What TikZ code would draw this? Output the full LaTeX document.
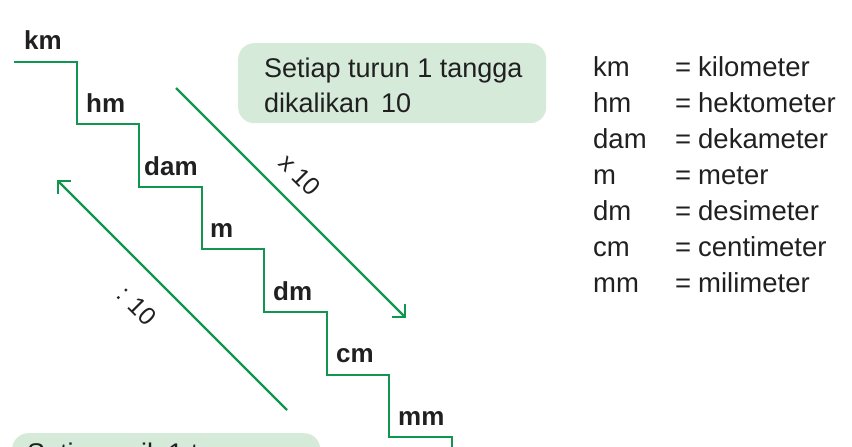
\documentclass[tikz,border=0pt]{standalone}
\usepackage{fontspec}
\setmainfont{Liberation Sans}
\usetikzlibrary{arrows.meta}
\definecolor{stairgreen}{RGB}{16,150,78}
\definecolor{boxgreen}{RGB}{213,234,217}
\definecolor{txt}{RGB}{32,32,32}
\begin{document}
\begin{tikzpicture}[x=1pt,y=-1pt,
  stair/.style={draw=stairgreen,line width=2.7pt},
  unitlbl/.style={anchor=base west,inner sep=0pt,font=\fontsize{26}{30}\selectfont\bfseries,text=txt},
  legend/.style={anchor=base west,inner sep=0pt,font=\fontsize{27.5}{30}\selectfont,text=txt},
  notebox/.style={fill=boxgreen,rounded corners=16pt,inner sep=0pt},
  notetext/.style={anchor=base west,inner sep=0pt,font=\fontsize{27}{30}\selectfont,text=txt},
  conv/.style={draw=stairgreen,line width=2.3pt,-{Straight Barb[angle=90:13pt]}},
  convlbl/.style={font=\fontsize{25}{28}\selectfont,rotate=-45,text=txt,inner sep=0pt}]
\useasboundingbox (0,0) rectangle (852,447);
\clip (0,0) rectangle (852,447);

% staircase
\draw[stair] (14,62) -| (77,124) -| (139,187) -| (202,249) -| (264,312) -| (327,375) -| (389,437) -| (452,455);

% unit labels on the steps
\node[unitlbl] (km) at (24,49) {km};
\node[unitlbl] (hm) at (86,112) {hm};
\node[unitlbl] (dam) at (144,175) {dam};
\node[unitlbl] (m) at (210,237) {m};
\node[unitlbl] (dm) at (273,300) {dm};
\node[unitlbl] (cm) at (336,362) {cm};
\node[unitlbl] (mm) at (398,425) {mm};

% top note
\node[notebox,minimum width=308pt,minimum height=80pt,anchor=north west] (topbox) at (238,43) {};
\node[notetext] (top1) at (264,77) {Setiap turun 1 tangga};
\node[notetext] (top2) at (264,112) {dikalikan\,\ 10};

% bottom note (cut off by the frame)
\node[notebox,minimum width=308pt,minimum height=70pt,anchor=north west] (botbox) at (12,433) {};
\node[notetext] (bot1) at (27,462) {Setiap naik 1 tangga};

% conversion arrows
\coordinate (downstart) at (176,88);
\coordinate (downend) at (406,318);
\draw[conv] (downstart) -- (downend);
\coordinate (upstart) at (287,410);
\coordinate (upend) at (57,180);
\draw[conv] (upstart) -- (upend);
\node[convlbl] (times) at (300,175) {x 10};
\node[convlbl] (divide) at (137,306) {: 10};

% legend
\foreach \ab/\nm [count=\i from 0] in {km/kilometer,hm/hektometer,dam/dekameter,m/meter,dm/desimeter,cm/centimeter,mm/milimeter}{
  \node[legend] (ab\i) at (593,{76+36*\i}) {\ab};
  \node[legend] (eq\i) at (675,{76+36*\i}) {=};
  \node[legend] (nm\i) at (698,{76+36*\i}) {\nm};
}
\end{tikzpicture}
\end{document}
